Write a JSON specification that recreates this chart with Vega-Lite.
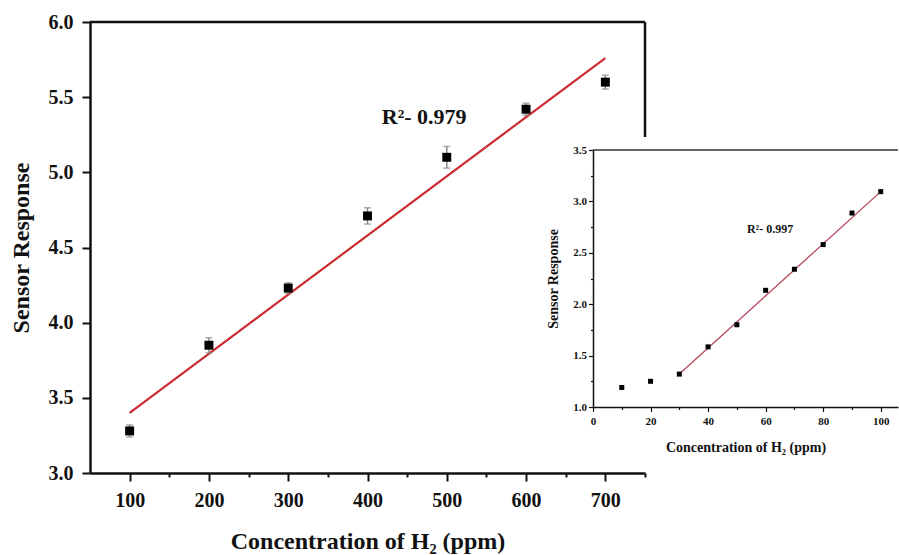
{
  "$schema": "https://vega.github.io/schema/vega-lite/v6.json",
  "width": 555,
  "height": 451,
  "autosize": {"type": "none"},
  "padding": {"left": 90, "top": 22, "right": 254, "bottom": 82},
  "background": "white",
  "config": {
    "view": {"stroke": null},
    "axis": {
      "grid": false,
      "labelFont": "Liberation Serif",
      "titleFont": "Liberation Serif",
      "labelFontWeight": "bold",
      "titleFontWeight": "bold",
      "labelColor": "#111",
      "titleColor": "#111",
      "domainColor": "#111",
      "tickColor": "#111",
      "labelOverlap": false,
      "labelFlush": false
    }
  },
  "datasets": {
    "main": [
      {"conc": 100, "resp": 3.28, "err": 0.04},
      {"conc": 200, "resp": 3.85, "err": 0.05},
      {"conc": 300, "resp": 4.23, "err": 0.035},
      {"conc": 400, "resp": 4.71, "err": 0.054},
      {"conc": 500, "resp": 5.10, "err": 0.072},
      {"conc": 600, "resp": 5.42, "err": 0.04},
      {"conc": 700, "resp": 5.60, "err": 0.045}
    ],
    "mainFit": [
      {"conc": 100, "resp": 3.40},
      {"conc": 700, "resp": 5.76}
    ],
    "inset": [
      {"conc": 10, "resp": 1.19},
      {"conc": 20, "resp": 1.25},
      {"conc": 30, "resp": 1.32},
      {"conc": 40, "resp": 1.585},
      {"conc": 50, "resp": 1.80},
      {"conc": 60, "resp": 2.135},
      {"conc": 70, "resp": 2.34},
      {"conc": 80, "resp": 2.58},
      {"conc": 90, "resp": 2.887},
      {"conc": 100, "resp": 3.095}
    ],
    "insetFit": [
      {"conc": 30, "resp": 1.32},
      {"conc": 100, "resp": 3.095}
    ]
  },
  "layer": [
    {
      "layer": [
        {
          "data": {"name": "mainFit"},
          "mark": {"type": "line", "color": "#cc2b32", "strokeWidth": 2.2},
          "encoding": {
            "x": {
              "field": "conc", "type": "quantitative",
              "title": "Concentration of H₂ (ppm)",
              "scale": {"domain": [50, 750], "nice": false, "zero": false},
              "axis": {
                "orient": "bottom",
                "values": [100, 200, 300, 400, 500, 600, 700],
                "format": "d",
                "tickSize": 8,
                "tickWidth": 2,
                "domainWidth": 2.5,
                "labelFontSize": 20,
                "titleFontSize": 24,
                "labelPadding": 9,
                "titlePadding": 19
              }
            },
            "y": {
              "field": "resp", "type": "quantitative",
              "title": "Sensor Response",
              "scale": {"domain": [3, 6], "nice": false, "zero": false},
              "axis": {
                "orient": "left",
                "values": [3, 3.25, 3.5, 3.75, 4, 4.25, 4.5, 4.75, 5, 5.25, 5.5, 5.75, 6],
                "format": ".1f",
                "labelExpr": "abs(datum.value*2 - round(datum.value*2)) > 0.01 ? '' : datum.label",
                "tickSize": {"condition": {"test": "abs(datum.value*2 - round(datum.value*2)) > 0.01", "value": 4}, "value": 8},
                "tickWidth": 2,
                "domainWidth": 2.5,
                "labelFontSize": 20,
                "titleFontSize": 24,
                "labelPadding": 9,
                "titlePadding": 15
              }
            }
          }
        },
        {
          "data": {"name": "main"},
          "mark": {"type": "errorbar", "ticks": {"size": 7}, "color": "#8a8a8a", "thickness": 1.5},
          "encoding": {
            "x": {"field": "conc", "type": "quantitative", "title": "Concentration of H₂ (ppm)"},
            "y": {"field": "resp", "type": "quantitative", "title": "Sensor Response"},
            "yError": {"field": "err", "title": "Sensor Response"}
          }
        },
        {
          "data": {"name": "main"},
          "mark": {"type": "square", "size": 80, "color": "#000", "opacity": 1},
          "encoding": {
            "x": {"field": "conc", "type": "quantitative", "title": "Concentration of H₂ (ppm)"},
            "y": {"field": "resp", "type": "quantitative", "title": "Sensor Response"}
          }
        },
        {
          "data": {"values": [{}]},
          "mark": {"type": "rule", "color": "#111", "strokeWidth": 2.5},
          "encoding": {
            "x": {"datum": 750},
            "y": {"datum": 6},
            "y2": {"datum": 5.235}
          }
        },
        {
          "data": {"values": [{"label": "R²- 0.979"}]},
          "mark": {"type": "text", "align": "left", "baseline": "middle", "font": "Liberation Serif", "fontWeight": "bold", "fontSize": 22, "color": "#111"},
          "encoding": {
            "x": {"datum": 418},
            "y": {"datum": 5.37},
            "text": {"field": "label"}
          }
        }
      ]
    },
    {
      "layer": [
        {
          "data": {"values": [{}]},
          "mark": {"type": "rule", "color": "#111", "strokeWidth": 2.5},
          "encoding": {
            "x": {
              "datum": 50, "type": "quantitative",
              "scale": {"domain": [50, 750], "nice": false, "zero": false},
              "axis": {
                "orient": "bottom",
                "values": [150, 250, 350, 450, 550, 650, 750],
                "labels": false,
                "domain": false,
                "title": null,
                "tickSize": 4,
                "tickWidth": 2
              }
            },
            "x2": {"datum": 750},
            "y": {
              "datum": 6, "type": "quantitative",
              "scale": {"domain": [3, 6], "nice": false, "zero": false},
              "axis": null
            }
          }
        }
      ]
    },
    {
      "layer": [
        {
          "data": {"name": "insetFit"},
          "mark": {"type": "line", "color": "#b5475a", "strokeWidth": 1.3},
          "encoding": {
            "x": {
              "field": "conc", "type": "quantitative",
              "title": "Concentration of H₂ (ppm)",
              "scale": {"domain": [0, 106], "range": [503, 808], "nice": false, "zero": false},
              "axis": {
                "orient": "bottom",
                "offset": -66,
                "values": [0, 10, 20, 30, 40, 50, 60, 70, 80, 90, 100],
                "format": "d",
                "labelExpr": "datum.value % 20 === 0 ? datum.label : ''",
                "tickSize": {"condition": {"test": "datum.value % 20 !== 0", "value": 2.5}, "value": 4.5},
                "tickWidth": 1.2,
                "domainWidth": 1.5,
                "labelFontSize": 11,
                "titleFontSize": 14,
                "labelPadding": 4,
                "titlePadding": 14
              }
            },
            "y": {
              "field": "resp", "type": "quantitative",
              "title": "Sensor Response",
              "scale": {"domain": [1, 3.5], "range": [385, 128], "nice": false, "zero": false},
              "axis": {
                "orient": "left",
                "offset": -503,
                "values": [1, 1.25, 1.5, 1.75, 2, 2.25, 2.5, 2.75, 3, 3.25, 3.5],
                "format": ".1f",
                "labelExpr": "abs(datum.value*2 - round(datum.value*2)) > 0.01 ? '' : datum.label",
                "tickSize": {"condition": {"test": "abs(datum.value*2 - round(datum.value*2)) > 0.01", "value": 2.5}, "value": 4.5},
                "tickWidth": 1.2,
                "domainWidth": 1.5,
                "labelFontSize": 11,
                "titleFontSize": 14,
                "labelPadding": 2,
                "titlePadding": 12
              }
            }
          }
        },
        {
          "data": {"name": "inset"},
          "mark": {"type": "square", "size": 25, "color": "#000", "opacity": 1},
          "encoding": {
            "x": {"field": "conc", "type": "quantitative", "title": "Concentration of H₂ (ppm)"},
            "y": {"field": "resp", "type": "quantitative", "title": "Sensor Response"}
          }
        },
        {
          "data": {"values": [{}]},
          "mark": {"type": "rule", "color": "#333", "strokeWidth": 1.5},
          "encoding": {
            "x": {"datum": 0},
            "x2": {"datum": 106},
            "y": {"datum": 3.5}
          }
        },
        {
          "data": {"values": [{"label": "R²- 0.997"}]},
          "mark": {"type": "text", "align": "left", "baseline": "middle", "font": "Liberation Serif", "fontWeight": "bold", "fontSize": 12, "color": "#111"},
          "encoding": {
            "x": {"datum": 53.5},
            "y": {"datum": 2.73},
            "text": {"field": "label"}
          }
        }
      ]
    }
  ],
  "resolve": {
    "scale": {"x": "independent", "y": "independent"},
    "axis": {"x": "independent", "y": "independent"}
  }
}
